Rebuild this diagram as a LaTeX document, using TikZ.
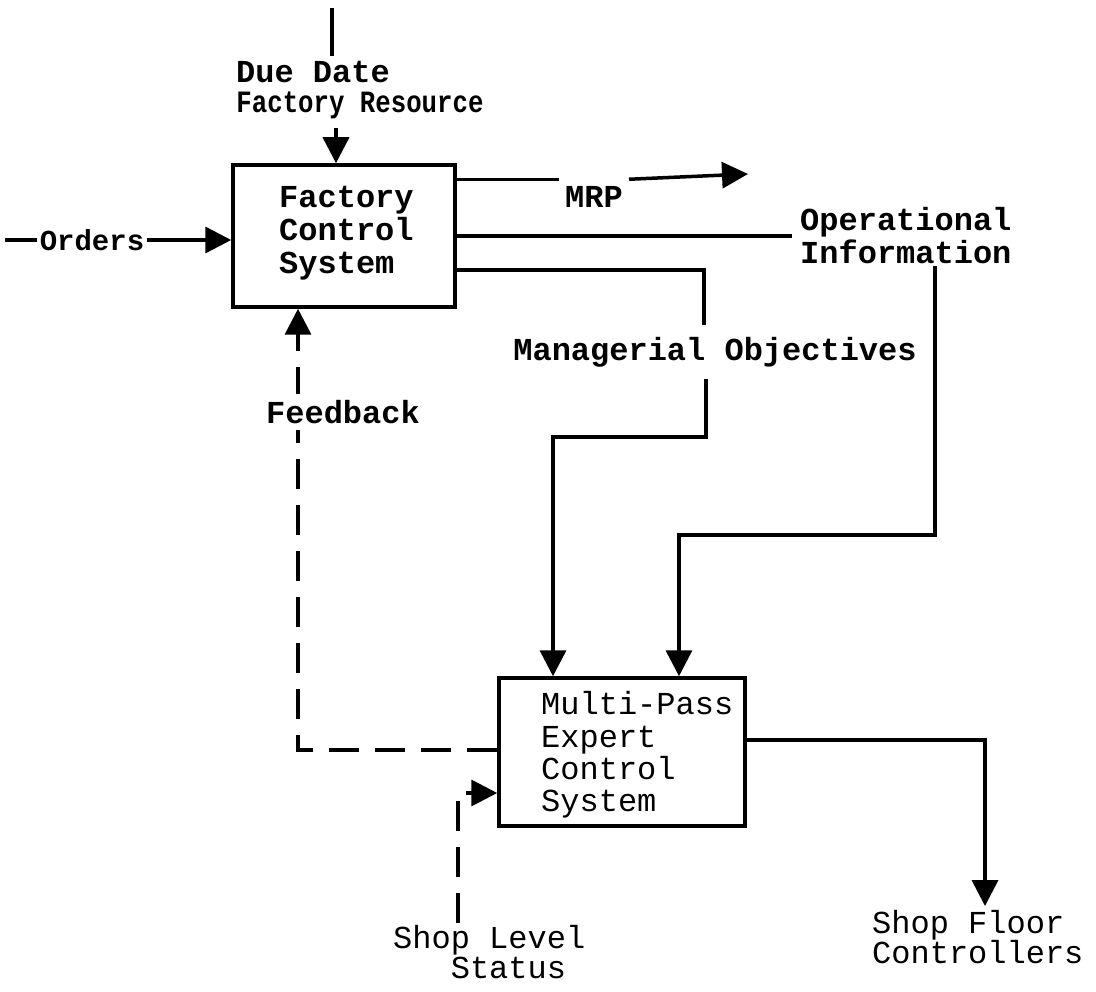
\documentclass[tikz,border=0pt]{standalone}
\usepackage{fontspec}
\newfontfamily\typewriter{Liberation Mono}
\newfontfamily\narrowtypewriter[FakeStretch=0.83]{Liberation Mono}
\usetikzlibrary{arrows.meta}
\begin{document}
\begin{tikzpicture}[x=1pt,y=-1pt,
  wire/.style={line width=3.5pt,line join=miter},
  arr/.style={wire,-{Triangle[width=26pt,length=26pt]}},
  dashwire/.style={wire,dash pattern=on 30pt off 16pt},
  dasharr/.style={dashwire,-{Triangle[width=26pt,length=26pt]}},
  block/.style={draw,line width=3.5pt,inner sep=0pt},
  bold/.style={font=\typewriter\bfseries\fontsize{32}{33}\selectfont,inner sep=3pt},
  plain/.style={font=\typewriter\fontsize{32}{32.3}\selectfont,inner sep=3pt},
]
\useasboundingbox (0,0) rectangle (1096,992);

% blocks
\node[block,minimum width=222pt,minimum height=142pt] (b1) at (344,236) {};
\node[block,minimum width=246pt,minimum height=148pt] (b2) at (622,752) {};
\node[bold,align=left,anchor=west] (t1) at (276,233) {Factory\\Control\\System};
\node[plain,align=left,anchor=west] (t2) at (538,755) {Multi-Pass\\Expert\\Control\\System};

% labels
\node[bold,inner ysep=1pt] (dd) at (313,72) {Due Date};
\node[bold,font=\narrowtypewriter\bfseries\fontsize{31}{32}\selectfont,inner ysep=1pt] (fr) at (360,105) {Factory Resource};
\node[bold,font=\typewriter\bfseries\fontsize{29}{30}\selectfont] (ord) at (92,240) {Orders};
\node[bold,inner xsep=6pt,inner ysep=7pt] (mrp) at (594,197) {MRP};
\node[bold,align=left,anchor=west,inner xsep=8pt,inner ysep=2pt] (opinfo) at (792,236) {Operational\\Information};
\node[bold,inner ysep=12pt] (mgr) at (715,352) {Managerial Objectives};
\node[plain,align=left,anchor=west,inner sep=2pt,font=\typewriter\fontsize{32}{30}\selectfont] (sl) at (391,952) {Shop Level\\\phantom{Sho}Status};
\node[plain,align=left,anchor=west,inner sep=4pt,font=\typewriter\fontsize{32}{30}\selectfont] (sf) at (868,937) {Shop Floor\\Controllers};

% corner points
\coordinate (topL) at (332,8);
\coordinate (resA) at (336,0);
\coordinate (ordL) at (5,240);
\coordinate (mrpOut) at (748,174);
\coordinate (mgA) at (704,270);
\coordinate (mgB) at (706,437);
\coordinate (mgC) at (553,437);
\coordinate (opA) at (935,535);
\coordinate (opB) at (679,535);
\coordinate (outA) at (985,740);
\coordinate (fbA) at (298,750);
\coordinate (slA) at (458,793);

% inputs to the factory control system
\draw[wire] (topL) -- ([yshift=4pt]topL |- dd.north);
\draw[arr] ([yshift=-8pt]resA |- fr.south) -- (resA |- b1.north);
\draw[wire] (ordL) -- (ord.west);
\draw[arr] (ord.east) -- (b1.west |- ord.east);

% outputs of the factory control system
\draw[wire] (b1.east |- mrp.north west) -- (mrp.north west);
\draw[arr] (mrp.north east) -- (mrpOut);
\draw[wire] (b1.east) -- (opinfo.west);
\draw[wire] (b1.east |- mgA) -- (mgA) -- (mgA |- mgr.north);
\draw[arr] (mgB |- mgr.south) -- (mgB) -- (mgC) -- (mgC |- b2.north);
\draw[arr] (opA |- opinfo.south) -- (opA) -- (opB) -- (opB |- b2.north);

% multi-pass expert control system
\draw[arr] (b2.east |- outA) -- (outA) -- (outA |- sf.north);
\draw[dasharr] (b2.west |- fbA) -- (fbA) -- (fbA |- b1.south);
\draw[dasharr] (slA |- sl.north) -- (slA) -- (b2.west |- slA);

\node[bold,fill=white,inner sep=6pt] (fb) at (343,412) {Feedback};
\end{tikzpicture}
\end{document}
